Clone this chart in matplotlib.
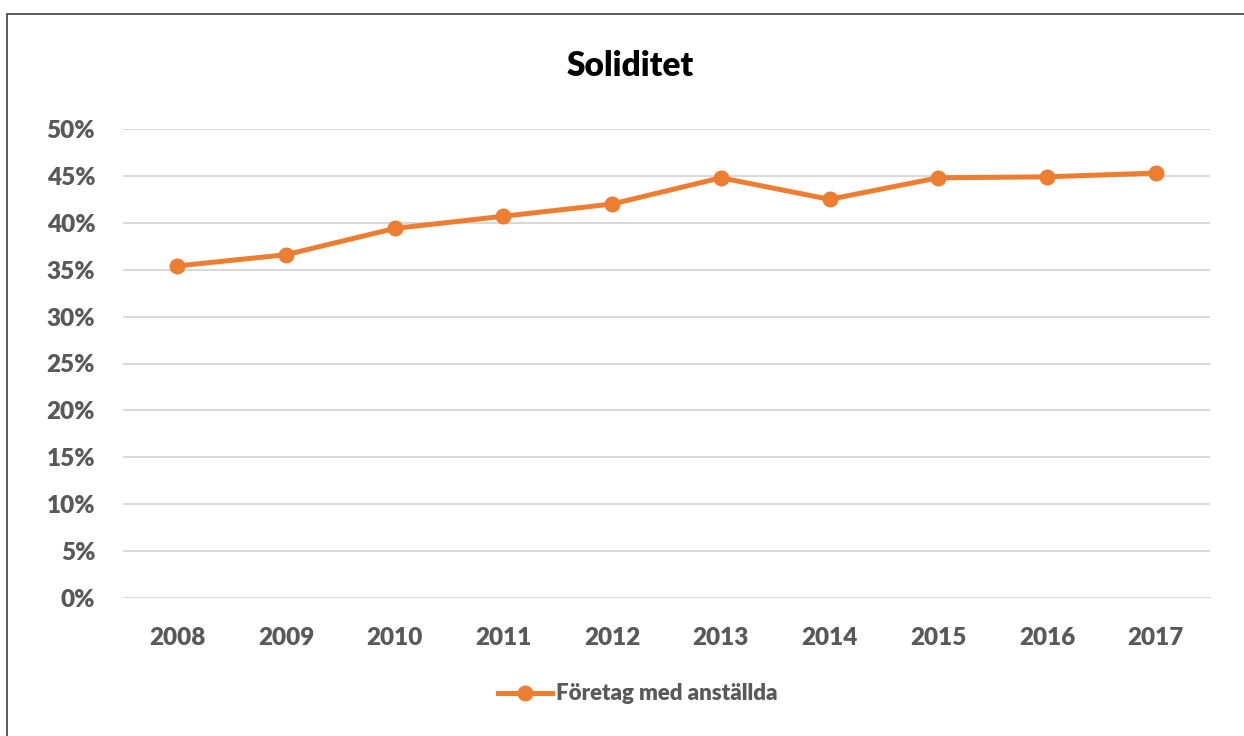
import matplotlib.pyplot as plt
from matplotlib.patches import Rectangle
from matplotlib.ticker import FuncFormatter

years = ['2008', '2009', '2010', '2011', '2012', '2013', '2014', '2015', '2016', '2017']
soliditet = [0.354, 0.366, 0.394, 0.407, 0.420, 0.448, 0.425, 0.448, 0.449, 0.453]
y_ticks = [0.0, 0.05, 0.10, 0.15, 0.20, 0.25, 0.30, 0.35, 0.40, 0.45, 0.50]

plt.rcParams['font.family'] = ['Lato', 'DejaVu Sans']

fig = plt.figure(figsize=(12.44, 7.36), dpi=100)
ax = fig.add_axes([123 / 1244, 1 - 598 / 736, 1087 / 1244, 469 / 736])

# outer chart frame (only left and top edges visible in the crop)
fig.patches.append(Rectangle((7 / 1244, -0.1), 1.2, 1 - 14 / 736 + 0.1,
                             transform=fig.transFigure, fill=False,
                             edgecolor='#404040', linewidth=1.2))

x = range(len(years))
ax.plot(x, soliditet, color='#ED7D31', linewidth=3.6, marker='o',
        markersize=10.5, label='Företag med anställda', zorder=3)

ax.set_xlim(-0.5, len(years) - 0.5)
ax.set_ylim(0, 0.5)
ax.set_yticks(y_ticks)
ax.yaxis.set_major_formatter(FuncFormatter(lambda v, p: f'{round(v * 100)}%'))
ax.set_xticks(list(x))
ax.set_xticklabels(years)
ax.grid(axis='y', color='#d9d9d9', linewidth=1.5)
ax.set_axisbelow(True)
for s in ax.spines.values():
    s.set_visible(False)
ax.tick_params(length=0, labelsize=17.5, labelcolor='#595959')
ax.tick_params(axis='y', pad=20)
ax.tick_params(axis='x', pad=21)
for lbl in ax.get_xticklabels() + ax.get_yticklabels():
    lbl.set_fontweight('heavy')

fig.text(630 / 1244, 1 - 66 / 736, 'Soliditet', ha='center', va='center',
         fontsize=24, fontweight='heavy', color='black')

leg = ax.legend(loc='center', bbox_to_anchor=(638 / 1244, 1 - 694 / 736),
                bbox_transform=fig.transFigure, frameon=False,
                prop={'size': 16, 'weight': 'heavy'}, handlelength=2.4,
                handletextpad=0.2, labelcolor='#595959')

fig.savefig('out.png', dpi=100)
